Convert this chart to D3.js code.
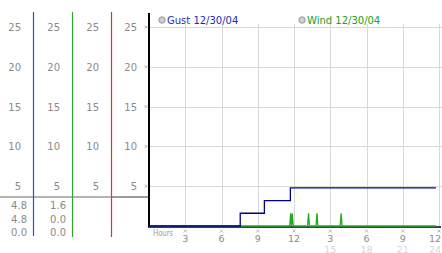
<!DOCTYPE html>
<html><head><meta charset="utf-8">
<script src="https://cdn.jsdelivr.net/npm/d3@7"></script>
<style>body{margin:0;background:#fff;overflow:hidden}svg{display:block}</style>
</head><body><svg id="c" width="442" height="253"></svg>
<script>
// ---- data ----
const yTicks = [5, 10, 15, 20, 25];
const xTicks = [3, 6, 9, 12, 15, 18, 21, 24];
const xTickLabels = ["3", "6", "9", "12", "3", "6", "9", "12"];
const xTickLabels2 = ["", "", "", "", "15", "18", "21", "24"];
const seriesNames = ["Gust 12/30/04", "Wind 12/30/04"];
const gustHours = [0, 7.55, 9.55, 11.7, 23.75];
const gustValues = [0, 1.6, 3.2, 4.8, 4.8];
const windHours = [0, 11.65, 11.72, 11.79, 11.86, 11.93, 13.12, 13.2, 13.28, 13.82, 13.9, 13.98, 15.82, 15.9, 15.98, 23.75];
const windValues = [0, 0, 1.6, 0, 1.6, 0, 0, 1.6, 0, 0, 1.6, 0, 0, 1.6, 0, 0];
const colValues1 = ["4.8", "4.8", "0.0"];
const colValues2 = ["1.6", "0.0", "0.0"];

const svg = d3.select("#c");
const x = d3.scaleLinear().domain([0, 24]).range([149, 439]);
const y = d3.scaleLinear().domain([0, 25]).range([226, 27]);
const FONT = "DejaVu Sans, Verdana, sans-serif";

// grid
svg.selectAll(".vg").data(xTicks).enter().append("line")
  .attr("x1", d => Math.round(x(d)) + 0.5).attr("x2", d => Math.round(x(d)) + 0.5)
  .attr("y1", 24).attr("y2", 226).attr("stroke", "#d8d8d8");
svg.selectAll(".hg").data(yTicks).enter().append("line")
  .attr("x1", 150).attr("x2", 442)
  .attr("y1", d => Math.round(y(d)) + 0.5).attr("y2", d => Math.round(y(d)) + 0.5)
  .attr("stroke", "#d8d8d8");

// left columns
const colEdges = [33, 72, 111, 149];
const colColors = ["#2a4fc8", "#30a830", "#cc3a3a"];
svg.append("line").attr("x1", 0).attr("x2", 111).attr("y1", 197).attr("y2", 197)
  .attr("stroke", "#b4b4b4").attr("stroke-width", 2);
svg.append("line").attr("x1", 111).attr("x2", 149).attr("y1", 197).attr("y2", 197)
  .attr("stroke", "#9a9a9a").attr("stroke-width", 2);
colColors.forEach((c, i) => {
  svg.append("line").attr("x1", colEdges[i] + 0.5).attr("x2", colEdges[i] + 0.5)
    .attr("y1", 12).attr("y2", i === 0 ? 236 : 237).attr("stroke", c).attr("stroke-width", 1.2);
});
colEdges.forEach(e => {
  svg.selectAll(null).data(yTicks).enter().append("text")
    .attr("x", e - 12).attr("y", d => y(d) + 4)
    .attr("text-anchor", "end").attr("font-family", FONT).attr("font-size", 10)
    .attr("fill", "#8a8a8a").text(d => d);
});
[colValues1, colValues2].forEach((vals, i) => {
  svg.selectAll(null).data(vals).enter().append("text")
    .attr("x", colEdges[i] - 6).attr("y", (d, j) => 209 + j * 13.5)
    .attr("text-anchor", "end").attr("font-family", FONT).attr("font-size", 10)
    .attr("fill", "#8a8a8a").text(d => d);
});

// tick glyphs
function xmark(cx, cy) {
  const g = svg.append("g").attr("stroke", "#aaa").attr("stroke-width", 0.8);
  g.append("line").attr("x1", cx - 1.5).attr("x2", cx + 1.5).attr("y1", cy - 1.5).attr("y2", cy + 1.5);
  g.append("line").attr("x1", cx - 1.5).attr("x2", cx + 1.5).attr("y1", cy + 1.5).attr("y2", cy - 1.5);
}
yTicks.forEach(d => xmark(146, y(d)));
xTicks.forEach(d => xmark(x(d), 231));

// x labels
svg.append("text").attr("x", 153).attr("y", 236).attr("font-family", FONT).attr("font-size", 9)
  .attr("textLength", 20).attr("lengthAdjust", "spacingAndGlyphs")
  .attr("fill", "#9a9a9a").text("Hours");
svg.selectAll(".xl").data(xTicks).enter().append("text")
  .attr("x", d => Math.min(x(d), 435)).attr("y", 241.5).attr("text-anchor", "middle")
  .attr("font-family", FONT).attr("font-size", 9.5).attr("fill", "#8a8a8a")
  .text((d, i) => xTickLabels[i]);
svg.selectAll(".xl2").data(xTicks).enter().append("text")
  .attr("x", d => Math.min(x(d), 435)).attr("y", 252.5).attr("text-anchor", "middle")
  .attr("font-family", FONT).attr("font-size", 9.5).attr("fill", "#d6d6d6")
  .text((d, i) => xTickLabels2[i]);

// axes
svg.append("line").attr("x1", 149).attr("x2", 149).attr("y1", 13).attr("y2", 227)
  .attr("stroke", "#000").attr("stroke-width", 2);
svg.append("line").attr("x1", 148).attr("x2", 441).attr("y1", 227).attr("y2", 227)
  .attr("stroke", "#000").attr("stroke-width", 1.5);

// series
const line = d3.line().x(d => x(d[0])).y(d => y(d[1]));
svg.append("path").datum(windHours.map((h, i) => [h, windValues[i]]))
  .attr("d", line).attr("fill", "none").attr("stroke", "#22aa22").attr("stroke-width", 1.3);
svg.append("path").datum(gustHours.map((h, i) => [h, gustValues[i]]))
  .attr("d", line.curve(d3.curveStepAfter)).attr("fill", "none")
  .attr("stroke", "#000088").attr("stroke-width", 1.3);

// legend
const legX = [162, 302];
const legColors = ["#1a2fc0", "#22a022"];
seriesNames.forEach((n, i) => {
  svg.append("circle").attr("cx", legX[i]).attr("cy", 20).attr("r", 3.2)
    .attr("fill", "#cfcfcf").attr("stroke", "#999").attr("stroke-width", 1);
  svg.append("text").attr("x", legX[i] + 5).attr("y", 24).attr("font-family", FONT)
    .attr("font-size", 10).attr("fill", legColors[i]).text(n);
});
</script></body></html>
